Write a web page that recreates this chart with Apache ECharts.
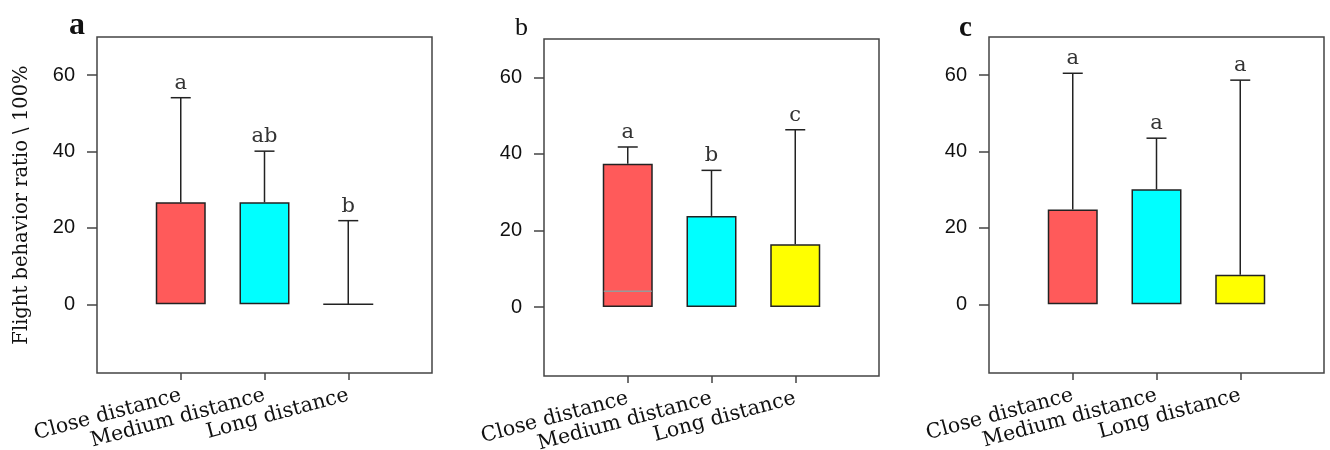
<!DOCTYPE html>
<html>
<head>
<meta charset="utf-8">
<script src="https://cdn.jsdelivr.net/npm/echarts@6/dist/echarts.min.js"></script>
<style>html,body{margin:0;padding:0;background:#fff;}#c{width:1330px;height:450px;}</style>
</head>
<body>
<div id="c"></div>
<script>
const categories = ['Close distance', 'Medium distance', 'Long distance'];
const barColors = ['#FF5A5A', '#00FFFF', '#FFFF00'];
const yTicks = [0, 20, 40, 60];
const panelLabels = ['a', 'b', 'c'];

const aMeans = [26.7, 26.7, 0];
const aErrTop = [54.1, 40.1, 21.9];
const aLetters = ['a', 'ab', 'b'];

const bMeans = [37.4, 23.8, 16.4];
const bErrTop = [41.8, 35.7, 46.3];
const bLetters = ['a', 'b', 'c'];
const bInnerLine = [4.1, null, null];

const cMeans = [24.8, 30.1, 7.7];
const cErrTop = [60.5, 43.5, 58.7];
const cLetters = ['a', 'a', 'a'];

const panels = [
  {means: aMeans, err: aErrTop, letters: aLetters, inner: [null, null, null]},
  {means: bMeans, err: bErrTop, letters: bLetters, inner: bInnerLine},
  {means: cMeans, err: cErrTop, letters: cLetters, inner: [null, null, null]}
];

const gridPos = [
  {left: 97, top: 37, width: 335, height: 336},
  {left: 544, top: 39, width: 335, height: 337},
  {left: 989, top: 37, width: 335, height: 336}
];
const titleStyle = [
  {left: 64, top: 5, size: 32, weight: 'bold', family: 'Liberation Serif'},
  {left: 510, top: 10, size: 26, weight: 'normal', family: 'Liberation Serif'},
  {left: 954, top: 9, size: 29, weight: 'bold', family: 'Liberation Serif'}
];

const serif = 'DejaVu Serif';
const xData = [''].concat(categories).concat(['']);
const inner = (i) => i >= 1 && i <= 3;

const option = {
  animation: false,
  backgroundColor: '#fff',
  title: panelLabels.map((t, i) => ({
    text: t, left: titleStyle[i].left, top: titleStyle[i].top,
    textStyle: {fontFamily: titleStyle[i].family, fontSize: titleStyle[i].size, fontWeight: titleStyle[i].weight, color: '#111'}
  })),
  grid: gridPos.map(g => Object.assign({show: true, outerBoundsMode: 'none', containLabel: false, borderColor: '#444', borderWidth: 1.5, backgroundColor: 'transparent'}, g)),
  xAxis: gridPos.map((g, i) => ({
    type: 'category', gridIndex: i, data: xData, boundaryGap: false, position: 'bottom',
    axisLine: {show: false, onZero: false},
    axisTick: {show: true, interval: inner, length: 7, lineStyle: {color: '#444', width: 1.5}},
    axisLabel: {interval: inner, rotate: 15, margin: 22, fontFamily: serif, fontSize: 20.5, color: '#111'},
    splitLine: {show: false}
  })),
  yAxis: gridPos.map((g, i) => ({
    type: 'value', gridIndex: i, min: -18, max: 70,
    axisLine: {show: false},
    axisTick: {show: true, length: 10, customValues: yTicks, lineStyle: {color: '#444', width: 1.5}},
    axisLabel: {customValues: yTicks, margin: 22, fontFamily: 'Liberation Sans', fontSize: 20, color: '#111'},
    splitLine: {show: false},
    name: i === 0 ? 'Flight behavior ratio \\ 100%' : '',
    nameLocation: 'middle', nameRotate: 90, nameGap: 65,
    nameTextStyle: {fontFamily: serif, fontSize: 19.5, color: '#111'}
  })),
  series: []
};

panels.forEach((p, i) => {
  option.series.push({
    type: 'bar', xAxisIndex: i, yAxisIndex: i, barWidth: 50,
    data: p.means.map((v, k) => ({value: [categories[k], v], itemStyle: {color: barColors[k]}})),
    itemStyle: {borderColor: '#222', borderWidth: 1.5},
    z: 2
  });
  option.series.push({
    type: 'custom', xAxisIndex: i, yAxisIndex: i, z: 3,
    data: p.means.map((v, k) => [k + 1, v, p.err[k], p.inner[k] == null ? NaN : p.inner[k]]),
    renderItem: (params, api) => {
      const k = params.dataIndex;
      const x = api.value(0), m = api.value(1), e = api.value(2), il = api.value(3);
      const pm = api.coord([x, m]);
      const pe = api.coord([x, e]);
      const children = [
        {type: 'line', shape: {x1: pm[0], y1: pm[1], x2: pe[0], y2: pe[1]}, style: {stroke: '#222', lineWidth: 1.5}},
        {type: 'line', shape: {x1: pe[0] - 10, y1: pe[1], x2: pe[0] + 10, y2: pe[1]}, style: {stroke: '#222', lineWidth: 1.5}},
        {type: 'text', x: pe[0], y: pe[1] - 4, style: {text: p.letters[k], fontFamily: serif, fontSize: 21, fill: '#333', align: 'center', verticalAlign: 'bottom'}}
      ];
      if (!isNaN(il)) {
        const pi = api.coord([x, il]);
        children.push({type: 'line', shape: {x1: pi[0] - 24, y1: pi[1], x2: pi[0] + 24, y2: pi[1]}, style: {stroke: '#999', lineWidth: 1.5}});
      }
      return {type: 'group', children: children};
    }
  });
});

const chart = echarts.init(document.getElementById('c'));
chart.setOption(option);
</script>
</body>
</html>
